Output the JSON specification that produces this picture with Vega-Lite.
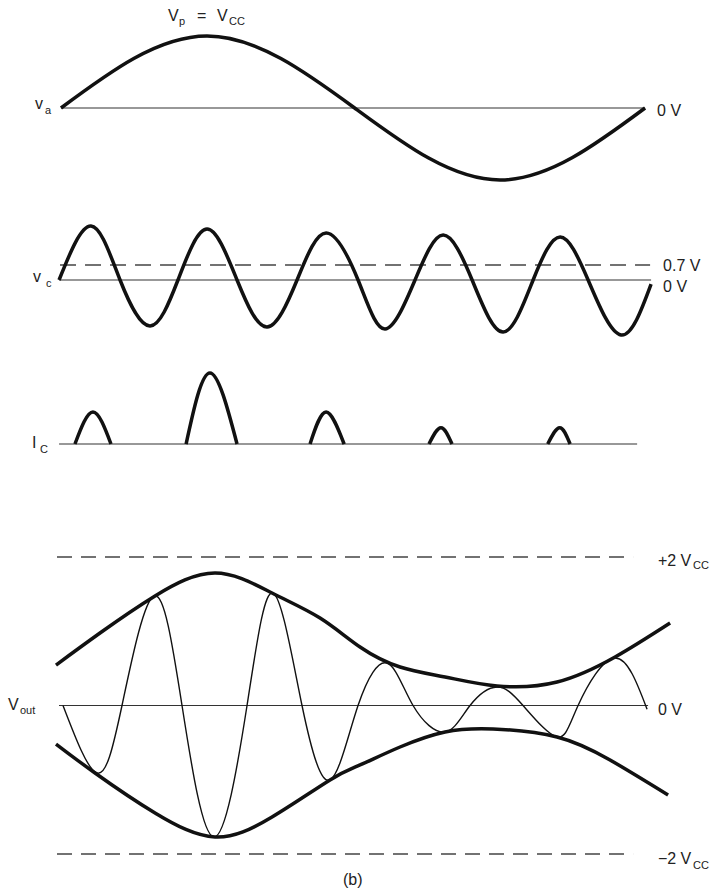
{
  "$schema": "https://vega.github.io/schema/vega-lite/v6.json",
  "padding": 0,
  "spacing": 0,
  "bounds": "flush",
  "background": "white",
  "config": {"view": {"stroke": null}, "text": {"font": "Liberation Sans"}},
  "resolve": {"scale": {"x": "shared", "y": "independent"}},
  "datasets": {
    "va": [
      {"t": 0, "v": 0}, {"t": 90, "v": 1.0}, {"t": 181, "v": 0}, {"t": 270.6, "v": -1.0}, {"t": 360, "v": 0}
    ],
    "vaBase": [{"t": 0, "v": 0}, {"t": 360, "v": 0}],
    "vc": [
      {"t": -1.2, "v": 0}, {"t": 18.5, "v": 2.52}, {"t": 36.4, "v": 0}, {"t": 54.9, "v": -2.15},
      {"t": 72.1, "v": 0}, {"t": 90.0, "v": 2.38}, {"t": 108.5, "v": 0}, {"t": 127.0, "v": -2.2},
      {"t": 145.5, "v": 0}, {"t": 163.4, "v": 2.2}, {"t": 183.1, "v": 0}, {"t": 199.7, "v": -2.29},
      {"t": 218.2, "v": 0}, {"t": 235.5, "v": 2.1}, {"t": 253.4, "v": 0}, {"t": 272.5, "v": -2.43},
      {"t": 291.0, "v": 0}, {"t": 307.6, "v": 2.01}, {"t": 324.9, "v": 0}, {"t": 345.2, "v": -2.57},
      {"t": 363.7, "v": -0.19}
    ],
    "vcRef": [
      {"line": "zero", "t": -1.2, "v": 0}, {"line": "zero", "t": 363.7, "v": 0},
      {"line": "threshold", "t": -0.6, "v": 0.7}, {"line": "threshold", "t": 363.1, "v": 0.7}
    ],
    "ic": [
      {"pulse": 1, "t": 8.6, "v": 0}, {"pulse": 1, "t": 19.7, "v": 0.45}, {"pulse": 1, "t": 30.8, "v": 0},
      {"pulse": 2, "t": 77.1, "v": 0}, {"pulse": 2, "t": 91.8, "v": 1.0}, {"pulse": 2, "t": 108.5, "v": 0},
      {"pulse": 3, "t": 153.5, "v": 0}, {"pulse": 3, "t": 163.4, "v": 0.45}, {"pulse": 3, "t": 174.5, "v": 0},
      {"pulse": 4, "t": 226.8, "v": 0}, {"pulse": 4, "t": 234.2, "v": 0.23}, {"pulse": 4, "t": 241.0, "v": 0},
      {"pulse": 5, "t": 300.0, "v": 0}, {"pulse": 5, "t": 307.4, "v": 0.23}, {"pulse": 5, "t": 313.8, "v": 0}
    ],
    "icBase": [{"t": -1.2, "v": 0}, {"t": 355.1, "v": 0}],
    "env": [
      {"side": "upper", "t": -3.08, "v": 0.545}, {"side": "upper", "t": 24.04, "v": 0.976},
      {"side": "upper", "t": 57.95, "v": 1.475}, {"side": "upper", "t": 94.93, "v": 1.785},
      {"side": "upper", "t": 130.07, "v": 1.515}, {"side": "upper", "t": 159.66, "v": 1.178},
      {"side": "upper", "t": 184.31, "v": 0.788}, {"side": "upper", "t": 208.97, "v": 0.519},
      {"side": "upper", "t": 236.71, "v": 0.384}, {"side": "upper", "t": 268.77, "v": 0.263},
      {"side": "upper", "t": 305.75, "v": 0.316}, {"side": "upper", "t": 341.51, "v": 0.653},
      {"side": "upper", "t": 375.42, "v": 1.111},
      {"side": "lower", "t": -3.08, "v": -0.519}, {"side": "lower", "t": 20.96, "v": -0.909},
      {"side": "lower", "t": 57.95, "v": -1.448}, {"side": "lower", "t": 94.93, "v": -1.771},
      {"side": "lower", "t": 130.07, "v": -1.502}, {"side": "lower", "t": 165.82, "v": -1.003},
      {"side": "lower", "t": 184.31, "v": -0.801}, {"side": "lower", "t": 208.97, "v": -0.559},
      {"side": "lower", "t": 236.71, "v": -0.357}, {"side": "lower", "t": 266.3, "v": -0.316},
      {"side": "lower", "t": 305.75, "v": -0.424}, {"side": "lower", "t": 338.42, "v": -0.734},
      {"side": "lower", "t": 374.18, "v": -1.205}
    ],
    "vout": [
      {"t": 1.23, "v": 0}, {"t": 22.19, "v": -0.909}, {"t": 37.6, "v": 0}, {"t": 57.33, "v": 1.475},
      {"t": 74.59, "v": 0}, {"t": 94.32, "v": -1.771}, {"t": 114.66, "v": 0}, {"t": 130.68, "v": 1.515},
      {"t": 148.55, "v": 0}, {"t": 165.82, "v": -1.003}, {"t": 183.08, "v": 0}, {"t": 200.96, "v": 0.572},
      {"t": 216.99, "v": 0}, {"t": 236.71, "v": -0.357}, {"t": 252.12, "v": 0}, {"t": 268.77, "v": 0.249},
      {"t": 284.79, "v": 0}, {"t": 305.75, "v": -0.424}, {"t": 318.7, "v": 0}, {"t": 341.51, "v": 0.64},
      {"t": 361.23, "v": -0.05}
    ],
    "voutRef": [
      {"line": "zero", "t": -1.23, "v": 0}, {"line": "zero", "t": 361.85, "v": 0},
      {"line": "plus", "t": -2.47, "v": 2}, {"line": "plus", "t": 352.6, "v": 2},
      {"line": "minus", "t": -2.47, "v": -2}, {"line": "minus", "t": 352.6, "v": -2}
    ],
    "labels": [
      {"panel": "va", "kind": "main", "t": 66.0, "v": 1.28, "text": "V"},
      {"panel": "va", "kind": "sub", "t": 72.7, "v": 1.2, "text": "p"},
      {"panel": "va", "kind": "main", "t": 83.8, "v": 1.28, "text": "="},
      {"panel": "va", "kind": "main", "t": 96.2, "v": 1.28, "text": "V"},
      {"panel": "va", "kind": "sub", "t": 103.6, "v": 1.2, "text": "CC"},
      {"panel": "va", "kind": "main", "t": -16.0, "v": 0.06, "text": "v"},
      {"panel": "va", "kind": "sub", "t": -9.9, "v": -0.04, "text": "a"},
      {"panel": "va", "kind": "main", "t": 367.4, "v": -0.04, "text": "0 V"},
      {"panel": "vc", "kind": "main", "t": -17.3, "v": 0.14, "text": "v"},
      {"panel": "vc", "kind": "sub", "t": -9.2, "v": -0.19, "text": "c"},
      {"panel": "vc", "kind": "main", "t": 371.1, "v": 0.65, "text": "0.7 V"},
      {"panel": "vc", "kind": "main", "t": 371.1, "v": -0.35, "text": "0 V"},
      {"panel": "ic", "kind": "main", "t": -17.9, "v": 0.01, "text": "I"},
      {"panel": "ic", "kind": "sub", "t": -12.9, "v": -0.08, "text": "C"},
      {"panel": "vout", "kind": "main", "t": -32.7, "v": 0.01, "text": "V"},
      {"panel": "vout", "kind": "sub", "t": -25.3, "v": -0.07, "text": "out"},
      {"panel": "vout", "kind": "main", "t": 367.9, "v": -0.06, "text": "0 V"},
      {"panel": "vout", "kind": "main", "t": 367.9, "v": 1.95, "text": "+2 V"},
      {"panel": "vout", "kind": "sub", "t": 389.6, "v": 1.88, "text": "CC"},
      {"panel": "vout", "kind": "main", "t": 367.9, "v": -2.07, "text": "−2 V"},
      {"panel": "vout", "kind": "sub", "t": 389.6, "v": -2.16, "text": "CC"},
      {"panel": "vout", "kind": "main", "t": 173.8, "v": -2.35, "text": "(b)"}
    ]
  },
  "vconcat": [
    {
      "width": 721,
      "height": 200,
      "encoding": {
        "x": {"field": "t", "type": "quantitative", "scale": {"domain": [-37.6, 406.8], "nice": false, "zero": false}, "axis": null},
        "y": {"field": "v", "type": "quantitative", "scale": {"domain": [-1.278, 1.5], "nice": false, "zero": false}, "axis": null}
      },
      "layer": [
        {"data": {"name": "vaBase"}, "mark": {"type": "line", "stroke": "#333", "strokeWidth": 1.2}, "encoding": {}},
        {"data": {"name": "va"}, "mark": {"type": "line", "interpolate": "natural", "stroke": "#111", "strokeWidth": 3.5}, "encoding": {}},
        {"data": {"name": "labels"}, "transform": [{"filter": "datum.panel === 'va' && datum.kind === 'main'"}],
         "mark": {"type": "text", "align": "left", "baseline": "middle", "fontSize": 16, "color": "#222"},
         "encoding": {"text": {"field": "text"}}},
        {"data": {"name": "labels"}, "transform": [{"filter": "datum.panel === 'va' && datum.kind === 'sub'"}],
         "mark": {"type": "text", "align": "left", "baseline": "middle", "fontSize": 11, "color": "#222"},
         "encoding": {"text": {"field": "text"}}}
      ]
    },
    {
      "width": 721,
      "height": 160,
      "encoding": {
        "x": {"field": "t", "type": "quantitative", "scale": {"domain": [-37.6, 406.8], "nice": false, "zero": false}, "axis": null},
        "y": {"field": "v", "type": "quantitative", "scale": {"domain": [-3.74, 3.74], "nice": false, "zero": false}, "axis": null}
      },
      "layer": [
        {"data": {"name": "vcRef"}, "transform": [{"filter": "datum.line === 'zero'"}], "mark": {"type": "line", "stroke": "#333", "strokeWidth": 1.2}, "encoding": {}},
        {"data": {"name": "vcRef"}, "transform": [{"filter": "datum.line === 'threshold'"}], "mark": {"type": "line", "stroke": "#444", "strokeWidth": 1.4, "strokeDash": [16, 9]}, "encoding": {}},
        {"data": {"name": "vc"}, "mark": {"type": "line", "interpolate": "natural", "stroke": "#111", "strokeWidth": 3.5}, "encoding": {}},
        {"data": {"name": "labels"}, "transform": [{"filter": "datum.panel === 'vc' && datum.kind === 'main'"}],
         "mark": {"type": "text", "align": "left", "baseline": "middle", "fontSize": 16, "color": "#222"},
         "encoding": {"text": {"field": "text"}}},
        {"data": {"name": "labels"}, "transform": [{"filter": "datum.panel === 'vc' && datum.kind === 'sub'"}],
         "mark": {"type": "text", "align": "left", "baseline": "middle", "fontSize": 11, "color": "#222"},
         "encoding": {"text": {"field": "text"}}}
      ]
    },
    {
      "width": 721,
      "height": 110,
      "encoding": {
        "x": {"field": "t", "type": "quantitative", "scale": {"domain": [-37.6, 406.8], "nice": false, "zero": false}, "axis": null},
        "y": {"field": "v", "type": "quantitative", "scale": {"domain": [-0.366, 1.183], "nice": false, "zero": false}, "axis": null}
      },
      "layer": [
        {"data": {"name": "icBase"}, "mark": {"type": "line", "stroke": "#333", "strokeWidth": 1.2}, "encoding": {}},
        {"data": {"name": "ic"}, "mark": {"type": "line", "interpolate": "natural", "stroke": "#111", "strokeWidth": 3.5}, "encoding": {"detail": {"field": "pulse"}}},
        {"data": {"name": "labels"}, "transform": [{"filter": "datum.panel === 'ic' && datum.kind === 'main'"}],
         "mark": {"type": "text", "align": "left", "baseline": "middle", "fontSize": 16, "color": "#222"},
         "encoding": {"text": {"field": "text"}}},
        {"data": {"name": "labels"}, "transform": [{"filter": "datum.panel === 'ic' && datum.kind === 'sub'"}],
         "mark": {"type": "text", "align": "left", "baseline": "middle", "fontSize": 11, "color": "#222"},
         "encoding": {"text": {"field": "text"}}}
      ]
    },
    {
      "width": 721,
      "height": 418,
      "encoding": {
        "x": {"field": "t", "type": "quantitative", "scale": {"domain": [-37.6, 406.8], "nice": false, "zero": false}, "axis": null},
        "y": {"field": "v", "type": "quantitative", "scale": {"domain": [-2.458, 3.172], "nice": false, "zero": false}, "axis": null}
      },
      "layer": [
        {"data": {"name": "voutRef"}, "transform": [{"filter": "datum.line === 'zero'"}], "mark": {"type": "line", "stroke": "#333", "strokeWidth": 1.2}, "encoding": {}},
        {"data": {"name": "voutRef"}, "transform": [{"filter": "datum.line !== 'zero'"}], "mark": {"type": "line", "stroke": "#444", "strokeWidth": 1.4, "strokeDash": [15, 9]}, "encoding": {"detail": {"field": "line"}}},
        {"data": {"name": "vout"}, "mark": {"type": "line", "interpolate": "natural", "stroke": "#111", "strokeWidth": 1.4}, "encoding": {}},
        {"data": {"name": "env"}, "mark": {"type": "line", "interpolate": "natural", "stroke": "#111", "strokeWidth": 3.5}, "encoding": {"detail": {"field": "side"}}},
        {"data": {"name": "labels"}, "transform": [{"filter": "datum.panel === 'vout' && datum.kind === 'main'"}],
         "mark": {"type": "text", "align": "left", "baseline": "middle", "fontSize": 16, "color": "#222"},
         "encoding": {"text": {"field": "text"}}},
        {"data": {"name": "labels"}, "transform": [{"filter": "datum.panel === 'vout' && datum.kind === 'sub'"}],
         "mark": {"type": "text", "align": "left", "baseline": "middle", "fontSize": 11, "color": "#222"},
         "encoding": {"text": {"field": "text"}}}
      ]
    }
  ]
}
